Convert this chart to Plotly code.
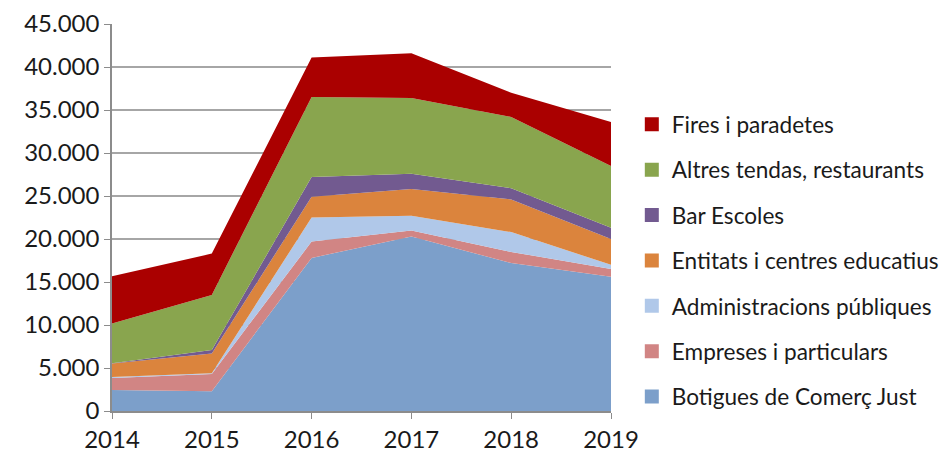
import plotly.graph_objects as go

years = [2014, 2015, 2016, 2017, 2018, 2019]

botigues = [2440, 2300, 17800, 20300, 17200, 15600]
empreses = [1400, 2000, 1900, 700, 1300, 900]
administracions = [100, 100, 2800, 1700, 2300, 500]
entitats = [1570, 2300, 2400, 3100, 3800, 3000]
bar_escoles = [50, 400, 2300, 1800, 1300, 1300]
altres = [4600, 6400, 9300, 8800, 8300, 7200]
fires = [5500, 4800, 4600, 5200, 2800, 5100]

series = [
    ("Botigues de Comerç Just", botigues, "#7C9FCA"),
    ("Empreses i particulars", empreses, "#D18584"),
    ("Administracions públiques", administracions, "#B0C8E9"),
    ("Entitats i centres educatius", entitats, "#DB843D"),
    ("Bar Escoles", bar_escoles, "#725A90"),
    ("Altres tendas, restaurants", altres, "#89A54E"),
    ("Fires i paradetes", fires, "#AA0000"),
]

fig = go.Figure()
n = len(series)
for i, (name, vals, color) in enumerate(series):
    fig.add_trace(go.Scatter(
        x=years, y=vals, name=name, mode="none",
        stackgroup="one", fillcolor=color, showlegend=False,
    ))
    # legend-only square swatch
    fig.add_trace(go.Scatter(
        x=[None], y=[None], name=name, mode="markers",
        marker=dict(symbol="square", size=14, color=color),
        legendgroup=name, legendrank=n - i,
    ))

fig.update_layout(
    width=943, height=456,
    margin=dict(l=112, r=332, t=24, b=45),
    paper_bgcolor="white", plot_bgcolor="white",
    separators=",.",
    font=dict(family="Lato", size=24, color="#1a1a1a"),
    showlegend=True,
    legend=dict(
        xref="container", yref="container",
        x=0.670, xanchor="left", y=0.774, yanchor="top",
        traceorder="grouped", tracegroupgap=13, maxheight=456,
        font=dict(size=22.6), itemsizing="trace",
    ),
)
fig.update_xaxes(
    range=[2014, 2019], tickvals=years, ticktext=[str(y) for y in years],
    showline=True, linecolor="#8c8c8c", linewidth=1.5,
    ticks="outside", tickcolor="#8c8c8c", ticklen=6,
    showgrid=False, zeroline=False, automargin=False,
)
fig.update_yaxes(
    range=[0, 45000], dtick=5000, tickformat=",",
    showline=True, linecolor="#8c8c8c", linewidth=1.5,
    ticks="outside", tickcolor="#8c8c8c", ticklen=6,
    showgrid=True, gridcolor="#a6a6a6", gridwidth=1.5,
    zeroline=False, automargin=False,
)

# drop the default 8px page margin so the figure fills the window
fig.write_html(
    "out.html",
    config={"displayModeBar": False},
    post_script="document.body.style.margin='0';",
)
